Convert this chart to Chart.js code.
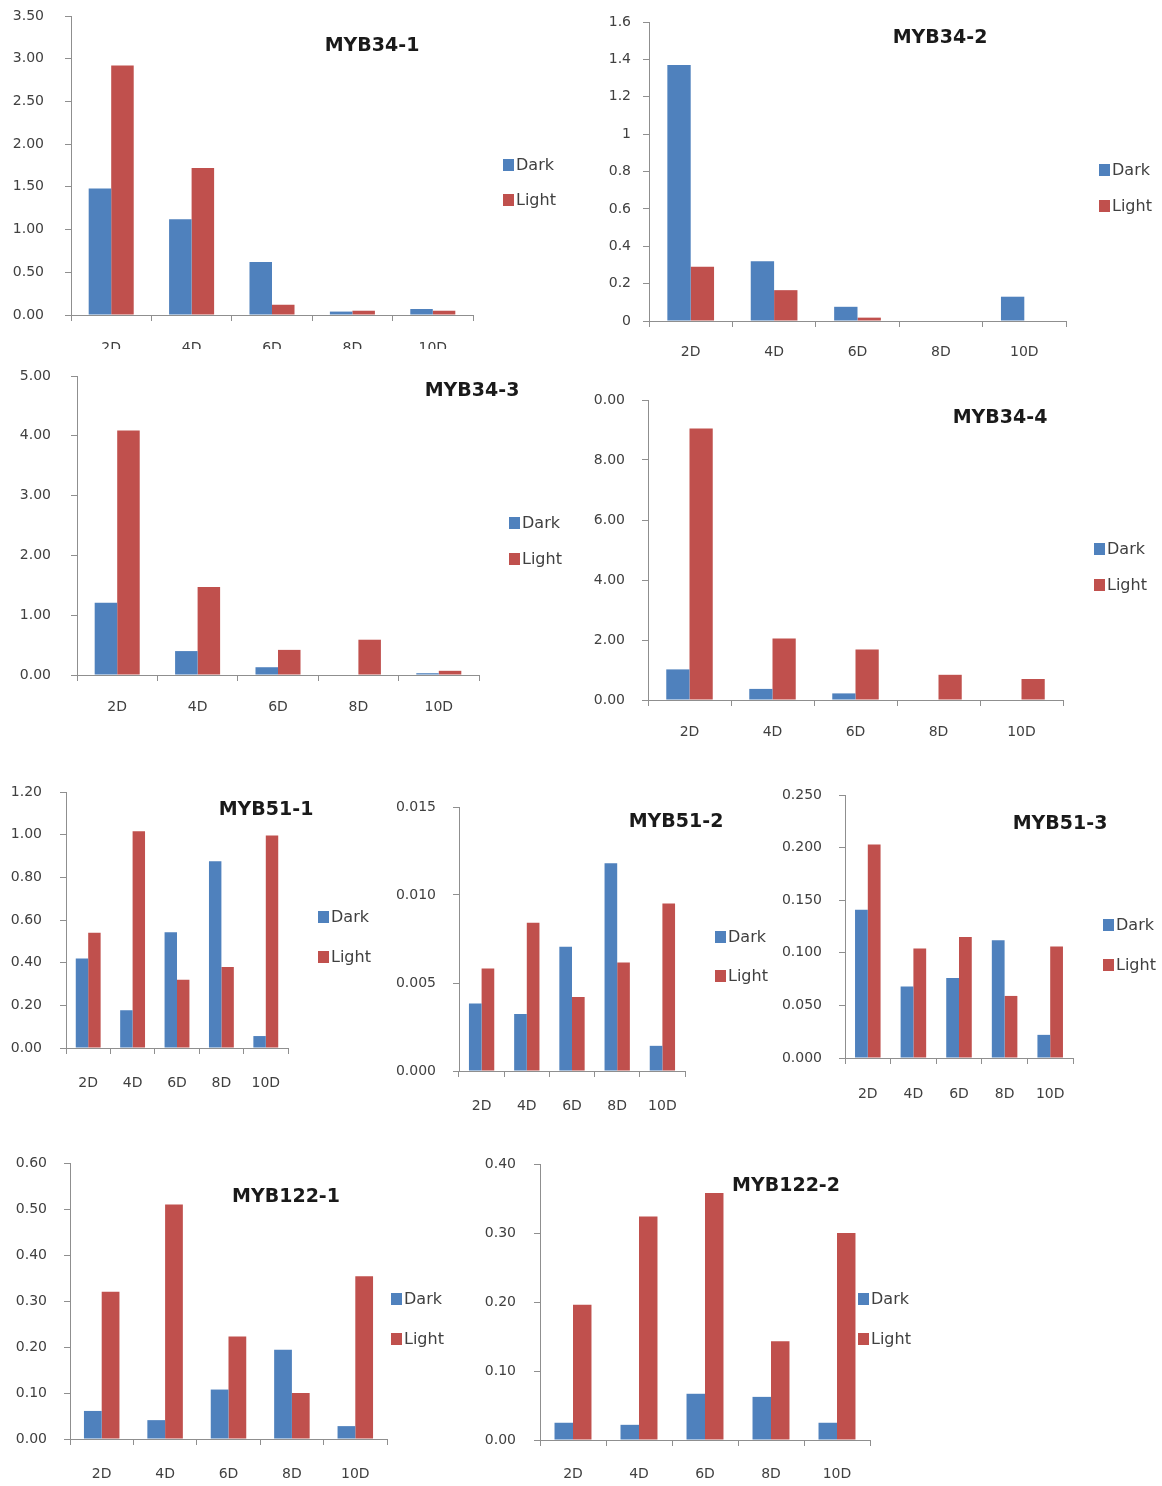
<!DOCTYPE html>
<html lang="en">
<head>
  <meta charset="UTF-8">
  <title>MYB expression - Dark vs Light</title>
  <script src="https://cdn.jsdelivr.net/npm/chart.js"></script>
  <style>
    body { margin: 0; background: #fff; }
    #page { position: relative; width: 1162px; height: 1486px; overflow: hidden; }
    .panel { position: absolute; overflow: hidden; }
    .panel canvas { position: absolute; }
  </style>
</head>
<body>
  <div id="page"></div>
  <script>
    // categories and series names
    const days = ['2D', '4D', '6D', '8D', '10D'];
    const seriesNames = ['Dark', 'Light'];

    // values
    const myb34_1_dark  = [1.48, 1.12, 0.62, 0.04, 0.07];
    const myb34_1_light = [2.92, 1.72, 0.12, 0.05, 0.05];
    const myb34_2_dark  = [1.37, 0.32, 0.076, 0, 0.13];
    const myb34_2_light = [0.29, 0.165, 0.018, 0, 0];
    const myb34_3_dark  = [1.21, 0.40, 0.13, 0, 0.03];
    const myb34_3_light = [4.09, 1.47, 0.42, 0.59, 0.07];
    const myb34_4_dark  = [1.02, 0.37, 0.22, 0, 0];
    const myb34_4_light = [9.05, 2.05, 1.68, 0.84, 0.70];
    const myb51_1_dark  = [0.42, 0.177, 0.543, 0.875, 0.056];
    const myb51_1_light = [0.54, 1.016, 0.32, 0.38, 0.996];
    const myb51_2_dark  = [0.00384, 0.00324, 0.00706, 0.0118, 0.00143];
    const myb51_2_light = [0.00582, 0.00843, 0.0042, 0.00617, 0.00952];
    const myb51_3_dark  = [0.141, 0.068, 0.076, 0.112, 0.022];
    const myb51_3_light = [0.203, 0.104, 0.115, 0.059, 0.106];
    const myb122_1_dark  = [0.061, 0.041, 0.1075, 0.194, 0.028];
    const myb122_1_light = [0.32, 0.51, 0.223, 0.10, 0.354];
    const myb122_2_dark  = [0.025, 0.022, 0.067, 0.0625, 0.025];
    const myb122_2_light = [0.196, 0.324, 0.358, 0.143, 0.30];

    // y tick labels
    const myb34_1_ticks = ['0.00', '0.50', '1.00', '1.50', '2.00', '2.50', '3.00', '3.50'];
    const myb34_2_ticks = ['0', '0.2', '0.4', '0.6', '0.8', '1', '1.2', '1.4', '1.6'];
    const myb34_3_ticks = ['0.00', '1.00', '2.00', '3.00', '4.00', '5.00'];
    const myb34_4_ticks = ['0.00', '2.00', '4.00', '6.00', '8.00', '10.00'];
    const myb51_1_ticks = ['0.00', '0.20', '0.40', '0.60', '0.80', '1.00', '1.20'];
    const myb51_2_ticks = ['0.000', '0.005', '0.010', '0.015'];
    const myb51_3_ticks = ['0.000', '0.050', '0.100', '0.150', '0.200', '0.250'];
    const myb122_1_ticks = ['0.00', '0.10', '0.20', '0.30', '0.40', '0.50', '0.60'];
    const myb122_2_ticks = ['0.00', '0.10', '0.20', '0.30', '0.40'];

    const DARK = '#4F81BD';
    const LIGHT = '#C0504D';
    const AXIS = '#8f8f8f';
    const TXT = '#404040';
    const YW = 80, XH = 45, PT = 40;

    // plot box (L,T,R,B) in page pixels, label offsets, title and legend spots
    const panels = [
      { title: 'MYB34-1', dark: myb34_1_dark, light: myb34_1_light, ticks: myb34_1_ticks,
        L: 71, T: 16, R: 473, B: 315, yPad: 21, xPad: 19, tx: 372, ty: 46, lx: 503, ly: [165, 200],
        clip: { bottom: 349 } },
      { title: 'MYB34-2', dark: myb34_2_dark, light: myb34_2_light, ticks: myb34_2_ticks,
        L: 649, T: 22, R: 1066, B: 321, yPad: 12, xPad: 17, tx: 940, ty: 38, lx: 1099, ly: [170, 206] },
      { title: 'MYB34-3', dark: myb34_3_dark, light: myb34_3_light, ticks: myb34_3_ticks,
        L: 77, T: 376, R: 479, B: 675, yPad: 20, xPad: 18, tx: 472, ty: 391, lx: 509, ly: [523, 559] },
      { title: 'MYB34-4', dark: myb34_4_dark, light: myb34_4_light, ticks: myb34_4_ticks,
        L: 648, T: 400, R: 1063, B: 700, yPad: 17, xPad: 18, tx: 1000, ty: 418, lx: 1094, ly: [549, 585],
        clip: { left: 593 } },
      { title: 'MYB51-1', dark: myb51_1_dark, light: myb51_1_light, ticks: myb51_1_ticks,
        L: 66, T: 792, R: 288, B: 1048, yPad: 18, xPad: 21, tx: 266, ty: 810, lx: 318, ly: [917, 957] },
      { title: 'MYB51-2', dark: myb51_2_dark, light: myb51_2_light, ticks: myb51_2_ticks,
        L: 459, T: 807, R: 685, B: 1071, yPad: 17, xPad: 21, tx: 676, ty: 822, lx: 715, ly: [937, 976] },
      { title: 'MYB51-3', dark: myb51_3_dark, light: myb51_3_light, ticks: myb51_3_ticks,
        L: 845, T: 795, R: 1073, B: 1058, yPad: 17, xPad: 22, tx: 1060, ty: 824, lx: 1103, ly: [925, 965] },
      { title: 'MYB122-1', dark: myb122_1_dark, light: myb122_1_light, ticks: myb122_1_ticks,
        L: 70, T: 1163, R: 387, B: 1439, yPad: 17, xPad: 21, tx: 286, ty: 1197, lx: 391, ly: [1299, 1339] },
      { title: 'MYB122-2', dark: myb122_2_dark, light: myb122_2_light, ticks: myb122_2_ticks,
        L: 540, T: 1164, R: 870, B: 1440, yPad: 18, xPad: 20, tx: 786, ty: 1186, lx: 858, ly: [1299, 1339] }
    ];

    // draws the panel title and the small legend at fixed page spots
    function decor(p, ox, oy) {
      return {
        id: 'decor',
        afterDraw(chart) {
          const ctx = chart.ctx;
          ctx.save();
          ctx.fillStyle = '#1a1a1a';
          ctx.font = 'bold 19px "DejaVu Sans"';
          ctx.textAlign = 'center';
          ctx.textBaseline = 'middle';
          ctx.fillText(p.title, p.tx - ox, p.ty - oy);
          ctx.font = '16px "DejaVu Sans"';
          ctx.textAlign = 'left';
          chart.data.datasets.forEach((ds, i) => {
            const y = p.ly[i] - oy;
            ctx.fillStyle = ds.backgroundColor;
            ctx.fillRect(p.lx - ox, y - 6, 11, 12);
            ctx.fillStyle = TXT;
            ctx.fillText(ds.label, p.lx - ox + 13, y + 1);
          });
          ctx.restore();
        }
      };
    }

    const page = document.getElementById('page');

    panels.forEach(p => {
      const cl = p.L - YW;
      const ct = p.T - PT;
      const cr = Math.min(1162, Math.max(p.R, p.lx + 62));
      const cw = cr - cl;
      const ch = p.B + XH - ct;

      const clip = p.clip || {};
      const wl = clip.left !== undefined ? clip.left : cl;
      const wt = ct;
      const wb = clip.bottom !== undefined ? clip.bottom : ct + ch;

      const wrap = document.createElement('div');
      wrap.className = 'panel';
      wrap.style.left = wl + 'px';
      wrap.style.top = wt + 'px';
      wrap.style.width = (cr - wl) + 'px';
      wrap.style.height = (wb - wt) + 'px';
      const canvas = document.createElement('canvas');
      canvas.width = cw;
      canvas.height = ch;
      canvas.style.left = (cl - wl) + 'px';
      canvas.style.top = '0px';
      wrap.appendChild(canvas);
      page.appendChild(wrap);

      const step = parseFloat(p.ticks[1]);
      const max = parseFloat(p.ticks[p.ticks.length - 1]);
      const tickFont = { family: '"DejaVu Sans"', size: 14 };

      // wanted plot area inside the canvas
      const want = { left: YW, top: PT, right: p.R - cl, bottom: p.B - ct };

      const chart = new Chart(canvas, {
        type: 'bar',
        data: {
          labels: days,
          datasets: [
            { label: seriesNames[0], data: p.dark, backgroundColor: DARK, barPercentage: 1, categoryPercentage: 0.56 },
            { label: seriesNames[1], data: p.light, backgroundColor: LIGHT, barPercentage: 1, categoryPercentage: 0.56 }
          ]
        },
        options: {
          responsive: false,
          animation: false,
          devicePixelRatio: 1,
          layout: { padding: { top: PT, right: cw - want.right, left: 0, bottom: 0 } },
          plugins: { legend: { display: false }, tooltip: { enabled: false } },
          scales: {
            x: {
              grid: { offset: true, drawOnChartArea: false, tickLength: 6, color: AXIS },
              border: { color: AXIS },
              ticks: { padding: p.xPad, color: TXT, font: tickFont, maxRotation: 0, autoSkip: false },
              afterFit: s => { s.height = XH; }
            },
            y: {
              min: 0,
              max: max,
              grid: { drawOnChartArea: false, tickLength: 6, color: AXIS },
              border: { color: AXIS },
              ticks: {
                stepSize: step,
                padding: p.yPad,
                color: TXT,
                font: tickFont,
                callback: v => p.ticks[Math.round(v / step)]
              },
              afterFit: s => { s.width = YW; }
            }
          }
        },
        plugins: [decor(p, cl, ct)]
      });

      // nudge the layout padding until the plot area sits where the figure has it
      for (let k = 0; k < 8; k++) {
        const a = chart.chartArea;
        const pad = chart.config.options.layout.padding;
        const next = {
          top: pad.top + (want.top - a.top),
          left: pad.left + (want.left - a.left),
          right: pad.right + (a.right - want.right),
          bottom: pad.bottom + (a.bottom - want.bottom)
        };
        if (next.top === pad.top && next.left === pad.left && next.right === pad.right && next.bottom === pad.bottom) break;
        chart.config.options.layout.padding = next;
        chart.update();
      }
    });
  </script>
</body>
</html>
